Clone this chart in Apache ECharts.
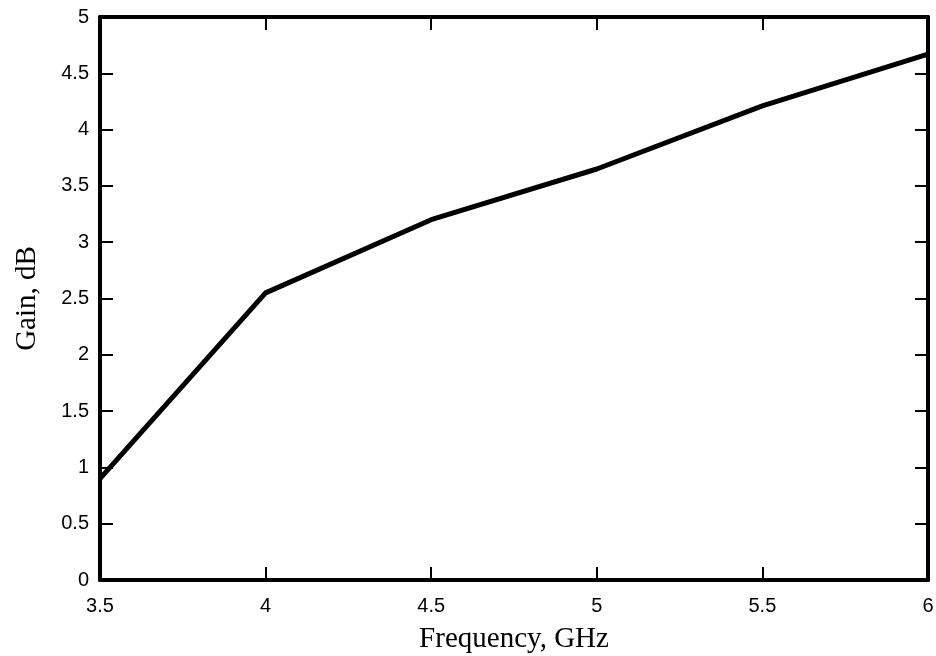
<!DOCTYPE html>
<html>
<head>
<meta charset="utf-8">
<script src="https://cdn.jsdelivr.net/npm/echarts@6/dist/echarts.min.js"></script>
<style>
  html, body { margin: 0; padding: 0; background: #fff; }
  #chart { width: 936px; height: 656px; }
</style>
</head>
<body>
<div id="chart"></div>
<script>
// values
const frequencyGHz = [3.5, 4, 4.5, 5, 5.5, 6];
const gainDb = [0.9, 2.55, 3.2, 3.65, 4.21, 4.67];

const chart = echarts.init(document.getElementById("chart"));

const tickStyle = { show: true, inside: true, length: 13, lineStyle: { color: "#000", width: 2 } };
const lineStyle = { show: true, onZero: false, lineStyle: { color: "#000", width: 4 } };
const labelFont = { color: "#000", fontFamily: "Liberation Sans", fontSize: 20 };
const nameFont = { color: "#000", fontFamily: "Liberation Serif", fontSize: 29 };

const xBase = { type: "value", min: 3.5, max: 6, interval: 0.5, splitLine: { show: false }, axisLine: lineStyle, axisTick: tickStyle };
const yBase = { type: "value", min: 0, max: 5, interval: 0.5, splitLine: { show: false }, axisLine: lineStyle, axisTick: tickStyle };

const option = {
  animation: false,
  backgroundColor: "#fff",
  grid: { left: 100, right: 8, top: 17, bottom: 76, outerBoundsMode: "none" },
  xAxis: [
    Object.assign({}, xBase, {
      position: "bottom",
      name: "Frequency, GHz",
      nameLocation: "middle",
      nameGap: 45,
      nameTextStyle: nameFont,
      axisLabel: Object.assign({ margin: 16 }, labelFont),
    }),
    Object.assign({}, xBase, { position: "top", axisLabel: { show: false } }),
  ],
  yAxis: [
    Object.assign({}, yBase, {
      position: "left",
      name: "Gain, dB",
      nameLocation: "middle",
      nameGap: 58,
      nameTextStyle: nameFont,
      axisLabel: Object.assign({ margin: 11 }, labelFont),
    }),
    Object.assign({}, yBase, { position: "right", axisLabel: { show: false } }),
  ],
  series: [
    {
      type: "line",
      data: frequencyGHz.map((f, i) => [f, gainDb[i]]),
      showSymbol: false,
      lineStyle: { color: "#000", width: 5 },
    },
  ],
};

chart.setOption(option);
</script>
</body>
</html>
